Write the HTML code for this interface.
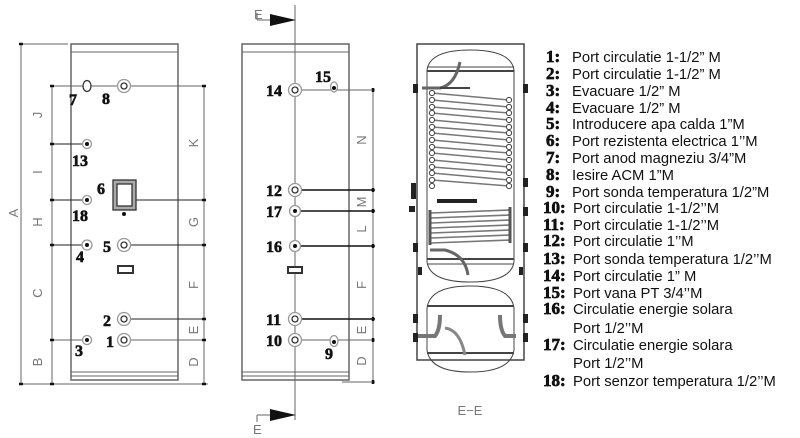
<!DOCTYPE html>
<html><head><meta charset="utf-8"><style>
html,body{margin:0;padding:0;background:#fff}
svg{display:block}
.n{font-family:"Liberation Serif",serif;font-weight:bold;font-size:17px;fill:#111;stroke:#111;stroke-width:0.7}
.t{font-family:"Liberation Sans",sans-serif;font-size:14.8px;fill:#111}
.d{font-family:"Liberation Sans",sans-serif;font-size:13px;fill:#777}
.pn{font-family:"Liberation Serif",serif;font-weight:bold;font-size:16px;fill:#111;stroke:#111;stroke-width:0.6}
</style></head><body>
<svg width="800" height="438" viewBox="0 0 800 438" xmlns="http://www.w3.org/2000/svg">
<g fill="none" stroke="#666" stroke-width="1">
<!-- LEFT VIEW -->
<rect x="71" y="44" width="107" height="336" stroke-width="1.5"/>
<line x1="71" y1="52" x2="178" y2="52"/><line x1="71" y1="372" x2="178" y2="372"/>
<line x1="71" y1="376" x2="178" y2="376"/>
<line x1="75" y1="380" x2="175" y2="380"/>
<line x1="20" y1="44" x2="68" y2="44"/>
<line x1="21" y1="44" x2="21" y2="384"/>
<line x1="52" y1="86" x2="52" y2="384"/>
<line x1="204" y1="86" x2="204" y2="384"/>
<line x1="20" y1="384" x2="208" y2="384"/>
<line x1="52" y1="86" x2="205" y2="86"/>
<line x1="52" y1="144" x2="87" y2="144" stroke="#222"/>
<line x1="52" y1="200" x2="87" y2="200" stroke="#222"/>
<line x1="52" y1="245" x2="87" y2="245" stroke="#222"/>
<line x1="124" y1="245" x2="205" y2="245" stroke="#222"/>
<line x1="132" y1="200" x2="205" y2="200" stroke="#222"/>
<line x1="124" y1="319" x2="205" y2="319" stroke="#222"/>
<line x1="52" y1="340" x2="87" y2="340"/>
<line x1="124" y1="340" x2="205" y2="340"/>
</g>
<g stroke="#111" stroke-width="2.5">
<line x1="19" y1="44" x2="23" y2="44"/><line x1="19" y1="384" x2="23" y2="384"/>
<line x1="50" y1="86" x2="54" y2="86"/><line x1="50" y1="144" x2="54" y2="144"/><line x1="50" y1="200" x2="54" y2="200"/><line x1="50" y1="245" x2="54" y2="245"/><line x1="50" y1="340" x2="54" y2="340"/><line x1="50" y1="384" x2="54" y2="384"/>
<line x1="202" y1="86" x2="206" y2="86"/><line x1="202" y1="200" x2="206" y2="200"/><line x1="202" y1="245" x2="206" y2="245"/><line x1="202" y1="319" x2="206" y2="319"/><line x1="202" y1="340" x2="206" y2="340"/><line x1="202" y1="384" x2="206" y2="384"/>
</g>
<g fill="#fff" stroke="#333" stroke-width="1.3">
<ellipse cx="87" cy="86" rx="4" ry="5.5"/>
<circle cx="124" cy="86" r="6.5" stroke="#999"/><circle cx="124" cy="86" r="3"/>
<circle cx="87" cy="144" r="4.5" stroke="#999"/>
<circle cx="87" cy="200" r="4.5" stroke="#999"/>
<circle cx="87" cy="245" r="5" stroke="#999"/>
<circle cx="124" cy="245" r="6.5" stroke="#999"/><circle cx="124" cy="245" r="3"/>
<circle cx="124" cy="319" r="6.5" stroke="#999"/><circle cx="124" cy="319" r="3"/>
<circle cx="124" cy="340" r="6.5" stroke="#999"/><circle cx="124" cy="340" r="3"/>
<circle cx="87" cy="340" r="4.5" stroke="#999"/>
<rect x="113" y="180" width="23" height="30" fill="#aaa" stroke="#333"/>
<rect x="117" y="184" width="15" height="22" fill="#fff" stroke="#333"/>
<rect x="118" y="266" width="15" height="7" stroke-width="2"/>
</g>
<g fill="#111"><circle cx="87" cy="144" r="2"/><circle cx="87" cy="200" r="2"/><circle cx="87" cy="245" r="2"/><circle cx="87" cy="340" r="2"/><circle cx="124" cy="214" r="2"/></g>
<g class="pn">
<text x="69" y="105">7</text><text x="102" y="104">8</text><text x="72" y="166">13</text><text x="72" y="221">18</text>
<text x="76" y="262">4</text><text x="103" y="252">5</text><text x="97" y="194">6</text><text x="103" y="326">2</text><text x="106" y="347">1</text><text x="75" y="356">3</text>
</g>
<g class="d">
<text transform="translate(18,213) rotate(-90)" text-anchor="middle">A</text>
<text transform="translate(42,115) rotate(-90)" text-anchor="middle">J</text>
<text transform="translate(42,172) rotate(-90)" text-anchor="middle">I</text>
<text transform="translate(42,222) rotate(-90)" text-anchor="middle">H</text>
<text transform="translate(42,293) rotate(-90)" text-anchor="middle">C</text>
<text transform="translate(42,362) rotate(-90)" text-anchor="middle">B</text>
<text transform="translate(198,143) rotate(-90)" text-anchor="middle">K</text>
<text transform="translate(198,222) rotate(-90)" text-anchor="middle">G</text>
<text transform="translate(198,285) rotate(-90)" text-anchor="middle">F</text>
<text transform="translate(198,330) rotate(-90)" text-anchor="middle">E</text>
<text transform="translate(198,362) rotate(-90)" text-anchor="middle">D</text>
</g>

<!-- MIDDLE VIEW -->
<g fill="none" stroke="#666" stroke-width="1">
<rect x="242" y="44" width="107" height="336" stroke-width="1.5"/>
<line x1="242" y1="52" x2="349" y2="52"/><line x1="242" y1="372" x2="349" y2="372"/><line x1="242" y1="376" x2="349" y2="376"/>
<line x1="295" y1="5" x2="295" y2="420"/>
<line x1="373" y1="90" x2="373" y2="382"/>
<line x1="342" y1="382" x2="375" y2="382"/>
<line x1="295" y1="90" x2="375" y2="90"/>
<line x1="295" y1="340" x2="375" y2="340"/>
<line x1="257" y1="13" x2="257" y2="20"/><line x1="257" y1="20" x2="270" y2="20"/>
<line x1="257" y1="415" x2="270" y2="415"/><line x1="257" y1="415" x2="257" y2="422"/>
</g>
<g stroke="#111" stroke-width="1.5">
<line x1="295" y1="190" x2="375" y2="190"/><line x1="295" y1="211" x2="375" y2="211"/><line x1="295" y1="246" x2="375" y2="246"/><line x1="295" y1="319" x2="375" y2="319"/>
</g>
<g stroke="#111" stroke-width="2.5">
<line x1="373" y1="88" x2="373" y2="92"/><line x1="373" y1="188" x2="373" y2="192"/><line x1="373" y1="209" x2="373" y2="213"/><line x1="373" y1="244" x2="373" y2="248"/><line x1="373" y1="317" x2="373" y2="321"/><line x1="373" y1="338" x2="373" y2="342"/><line x1="373" y1="380" x2="373" y2="384"/>
</g>
<polygon points="270,14 296,20 270,26" fill="#111"/>
<polygon points="270,409 296,415 270,421" fill="#111"/>
<g class="d"><text x="254" y="19">E</text><text x="253" y="434">E</text>
<text transform="translate(366,140) rotate(-90)" text-anchor="middle">N</text>
<text transform="translate(366,202) rotate(-90)" text-anchor="middle">M</text>
<text transform="translate(366,229) rotate(-90)" text-anchor="middle">L</text>
<text transform="translate(366,285) rotate(-90)" text-anchor="middle">F</text>
<text transform="translate(366,330) rotate(-90)" text-anchor="middle">E</text>
<text transform="translate(366,361) rotate(-90)" text-anchor="middle">D</text></g>
<g fill="#fff" stroke="#333" stroke-width="1.3">
<circle cx="295" cy="90" r="6.5" stroke="#999"/><circle cx="295" cy="90" r="3"/>
<circle cx="295" cy="190" r="6.5" stroke="#999"/><circle cx="295" cy="190" r="3"/>
<circle cx="295" cy="211" r="5.5" stroke="#999"/>
<circle cx="295" cy="246" r="5.5" stroke="#999"/>
<circle cx="295" cy="319" r="6.5" stroke="#999"/><circle cx="295" cy="319" r="3"/>
<circle cx="295" cy="340" r="6.5" stroke="#999"/><circle cx="295" cy="340" r="3"/>
<ellipse cx="334" cy="87" rx="3.5" ry="5" stroke="#999"/>
<ellipse cx="334" cy="341" rx="4" ry="5.5" stroke="#999"/>
<rect x="288" y="267" width="14" height="6" stroke-width="2"/>
</g>
<g fill="#111"><circle cx="295" cy="211" r="2"/><circle cx="295" cy="246" r="2"/><circle cx="334" cy="88" r="2"/><circle cx="334" cy="342" r="2"/></g>
<g class="pn"><text x="266" y="96">14</text><text x="315" y="82">15</text><text x="266" y="196">12</text><text x="266" y="217">17</text><text x="266" y="252">16</text><text x="266" y="325">11</text><text x="266" y="346">10</text><text x="325" y="359">9</text></g>

<!-- SECTION E-E -->
<g fill="none" stroke="#444" stroke-width="1">
<rect x="417" y="44" width="107" height="316" stroke-width="1.5"/>
<line x1="427" y1="70" x2="427" y2="262"/><line x1="514" y1="70" x2="514" y2="262"/>
<path d="M427,70 Q430,50 470,50 Q511,50 514,70"/>
<line x1="427" y1="67" x2="514" y2="67"/><line x1="427" y1="71" x2="514" y2="71" stroke-width="2"/>
<path d="M427,262 Q430,282 470,282 Q511,282 514,262"/>
<line x1="427" y1="259" x2="514" y2="259" stroke-width="2"/><line x1="427" y1="264" x2="514" y2="264"/>
<line x1="427" y1="308" x2="427" y2="350"/><line x1="514" y1="308" x2="514" y2="350"/>
<path d="M427,308 Q430,286 470,286 Q511,286 514,308"/>
<line x1="427" y1="306" x2="514" y2="306" stroke-width="2"/>
<path d="M427,350 Q430,372 470,372 Q511,372 514,350"/>
<line x1="427" y1="353" x2="514" y2="353" stroke-width="2"/>
<path d="M422,88 L440,88 Q455,85 460,62" stroke-width="3" stroke="#666"/>
<path d="M430,250 L445,250 Q465,255 468,275" stroke-width="3" stroke="#666"/>
<path d="M418,336 L435,336 Q440,330 440,315 M516,336 L505,336 Q500,330 500,315" stroke-width="4" stroke="#777"/>
<path d="M445,328 Q460,330 465,355" stroke-width="3" stroke="#888"/>
<line x1="440" y1="88" x2="470" y2="88" stroke-width="2"/>
</g>
<g stroke="#777" stroke-width="1.6">
<line x1="432" y1="93" x2="509" y2="100"/><line x1="432" y1="100" x2="509" y2="107"/><line x1="432" y1="107" x2="509" y2="113"/><line x1="432" y1="113" x2="509" y2="120"/><line x1="432" y1="120" x2="509" y2="127"/><line x1="432" y1="127" x2="509" y2="133"/><line x1="432" y1="133" x2="509" y2="140"/><line x1="432" y1="140" x2="509" y2="147"/><line x1="432" y1="147" x2="509" y2="153"/><line x1="432" y1="153" x2="509" y2="160"/><line x1="432" y1="160" x2="509" y2="167"/><line x1="432" y1="167" x2="509" y2="173"/><line x1="432" y1="173" x2="509" y2="180"/><line x1="432" y1="180" x2="509" y2="186"/>
<line x1="431" y1="213" x2="510" y2="210"/><line x1="431" y1="218" x2="510" y2="215"/><line x1="431" y1="223" x2="510" y2="220"/><line x1="431" y1="228" x2="510" y2="225"/><line x1="431" y1="233" x2="510" y2="230"/><line x1="431" y1="238" x2="510" y2="235"/><line x1="431" y1="243" x2="510" y2="240"/>
</g>
<g fill="#fff" stroke="#444" stroke-width="1">
<circle cx="432" cy="93" r="2.6"/><circle cx="432" cy="100" r="2.6"/><circle cx="432" cy="107" r="2.6"/><circle cx="432" cy="113" r="2.6"/><circle cx="432" cy="120" r="2.6"/><circle cx="432" cy="127" r="2.6"/><circle cx="432" cy="133" r="2.6"/><circle cx="432" cy="140" r="2.6"/><circle cx="432" cy="147" r="2.6"/><circle cx="432" cy="153" r="2.6"/><circle cx="432" cy="160" r="2.6"/><circle cx="432" cy="167" r="2.6"/><circle cx="432" cy="173" r="2.6"/><circle cx="432" cy="180" r="2.6"/><circle cx="432" cy="186" r="2.6"/>
<circle cx="509" cy="100" r="2.6"/><circle cx="509" cy="107" r="2.6"/><circle cx="509" cy="113" r="2.6"/><circle cx="509" cy="120" r="2.6"/><circle cx="509" cy="127" r="2.6"/><circle cx="509" cy="133" r="2.6"/><circle cx="509" cy="140" r="2.6"/><circle cx="509" cy="147" r="2.6"/><circle cx="509" cy="153" r="2.6"/><circle cx="509" cy="160" r="2.6"/><circle cx="509" cy="167" r="2.6"/><circle cx="509" cy="173" r="2.6"/><circle cx="509" cy="180" r="2.6"/><circle cx="509" cy="186" r="2.6"/>
</g>
<g fill="#222">
<rect x="413" y="84" width="5" height="9"/><rect x="523" y="84" width="5" height="9"/>
<rect x="523" y="178" width="5" height="9"/><rect x="411" y="183" width="5" height="16"/><rect x="409" y="206" width="6" height="6"/>
<rect x="523" y="207" width="5" height="9"/><rect x="413" y="243" width="5" height="9"/><rect x="523" y="243" width="5" height="9"/>
<rect x="418" y="267" width="4" height="8"/><rect x="519" y="267" width="4" height="8"/>
<rect x="413" y="314" width="5" height="9"/><rect x="523" y="314" width="5" height="9"/>
<rect x="413" y="333" width="5" height="9"/><rect x="523" y="333" width="5" height="9"/>
<rect x="437" y="199" width="40" height="4"/>
</g>
<line x1="430" y1="210" x2="430" y2="245" stroke="#555" stroke-width="3"/>
<line x1="510" y1="207" x2="510" y2="243" stroke="#555" stroke-width="3"/>
<text x="470" y="415" text-anchor="middle" class="d" font-size="14">E−E</text>

<!-- LEGEND -->
<g class="n">
<text x="546" y="62">1:</text><text x="546" y="79">2:</text><text x="546" y="96">3:</text><text x="546" y="113">4:</text><text x="546" y="129">5:</text><text x="546" y="146">6:</text><text x="546" y="163">7:</text><text x="546" y="180">8:</text><text x="546" y="197">9:</text><text x="543" y="213">10:</text><text x="543" y="230">11:</text><text x="543" y="246">12:</text><text x="543" y="264">13:</text><text x="543" y="281">14:</text><text x="543" y="298">15:</text><text x="543" y="314">16:</text><text x="543" y="350">17:</text><text x="543" y="386">18:</text>
</g>
<g class="t">
<text x="572" y="62">Port circulatie 1-1/2” M</text>
<text x="572" y="79">Port circulatie 1-1/2” M</text>
<text x="572" y="96">Evacuare 1/2” M</text>
<text x="572" y="113">Evacuare 1/2” M</text>
<text x="572" y="129">Introducere apa calda 1”M</text>
<text x="572" y="146">Port rezistenta electrica 1’’M</text>
<text x="572" y="163">Port anod magneziu 3/4”M</text>
<text x="572" y="180">Iesire ACM 1”M</text>
<text x="572" y="197">Port sonda temperatura 1/2”M</text>
<text x="573" y="213">Port circulatie 1-1/2’’M</text>
<text x="573" y="230">Port circulatie 1-1/2’’M</text>
<text x="573" y="246">Port circulatie 1’’M</text>
<text x="573" y="264">Port sonda temperatura 1/2’’M</text>
<text x="573" y="281">Port circulatie 1” M</text>
<text x="573" y="298">Port vana PT 3/4’’M</text>
<text x="573" y="314">Circulatie energie solara</text>
<text x="573" y="333">Port 1/2’’M</text>
<text x="573" y="350">Circulatie energie solara</text>
<text x="573" y="368">Port 1/2’’M</text>
<text x="573" y="386">Port senzor temperatura 1/2’’M</text>
</g>
</svg>
</body></html>
